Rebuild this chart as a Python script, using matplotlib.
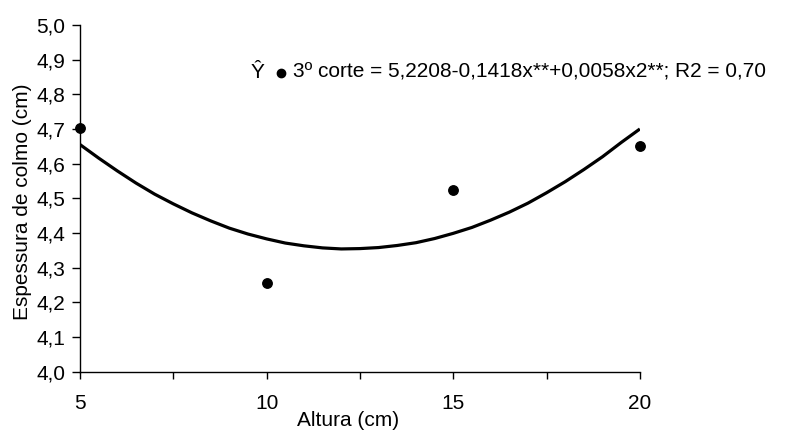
import matplotlib
matplotlib.use("Agg")
import matplotlib.pyplot as plt

plt.rcParams['font.family'] = ['Liberation Sans', 'DejaVu Sans']

# observed values
altura = [5, 10, 15, 20]
espessura = [4.702, 4.257, 4.523, 4.651]

# fitted curve
curva_x = [5, 5.5, 6, 6.5, 7, 7.5, 8, 8.5, 9, 9.5, 10, 10.5, 11, 11.5, 12, 12.5,
           13, 13.5, 14, 14.5, 15, 15.5, 16, 16.5, 17, 17.5, 18, 18.5, 19, 19.5, 20]
curva_y = [4.655, 4.616, 4.579, 4.544, 4.512, 4.484, 4.458, 4.435, 4.414, 4.397,
           4.383, 4.371, 4.363, 4.357, 4.354, 4.355, 4.358, 4.364, 4.372, 4.384,
           4.399, 4.416, 4.437, 4.460, 4.486, 4.516, 4.548, 4.583, 4.620, 4.661, 4.700]

x_ticks = [5, 7.5, 10, 12.5, 15, 17.5, 20]
x_labels = ['5', '', '10', '', '15', '', '20']
y_ticks = [4.0, 4.1, 4.2, 4.3, 4.4, 4.5, 4.6, 4.7, 4.8, 4.9, 5.0]
y_labels = ['4,0', '4,1', '4,2', '4,3', '4,4', '4,5', '4,6', '4,7', '4,8', '4,9', '5,0']

legenda = "3º corte = 5,2208-0,1418x**+0,0058x2**; R2 = 0,70"

fs = 15

fig = plt.figure(figsize=(7.89, 4.30), dpi=100)
ax = fig.add_axes([0.1014, 0.1356, 0.7096, 0.8064])

ax.plot(curva_x, curva_y, color='black', lw=2.3, solid_capstyle='butt')
ax.plot(altura, espessura, 'o', color='black', ms=6.8, clip_on=False)

ax.set_xlim(5, 20)
ax.set_ylim(4.0, 5.0)
ax.set_xticks(x_ticks)
ax.set_xticklabels(x_labels)
ax.set_yticks(y_ticks)
ax.set_yticklabels(y_labels)

for s in ['top', 'right']:
    ax.spines[s].set_visible(False)
for s in ['left', 'bottom']:
    ax.spines[s].set_linewidth(1.0)

ax.tick_params(axis='x', direction='out', length=5, width=1.0, pad=11, labelsize=fs)
ax.tick_params(axis='y', direction='out', length=5.5, width=1.0, pad=5, labelsize=fs)

ax.set_xlabel('Altura (cm)', fontsize=fs)
ax.xaxis.label.set_verticalalignment('center')
ax.xaxis.set_label_coords(0.479, -0.141)
ax.set_ylabel('Espessura de colmo (cm)', fontsize=fs)
ax.yaxis.label.set_verticalalignment('center')
ax.yaxis.set_label_coords(-0.1036, 0.49)

# legend text inside the plot
fig.text(251 / 789, 1 - 72 / 430, "Ŷ", fontsize=fs, va='center', ha='left')
fig.add_artist(plt.Line2D([280.5 / 789], [1 - 73 / 430], marker='o', color='black',
                          ms=6, transform=fig.transFigure))
fig.text(293 / 789, 1 - 72 / 430, legenda, fontsize=fs, va='center', ha='left')

fig.savefig('out.png', dpi=100)
